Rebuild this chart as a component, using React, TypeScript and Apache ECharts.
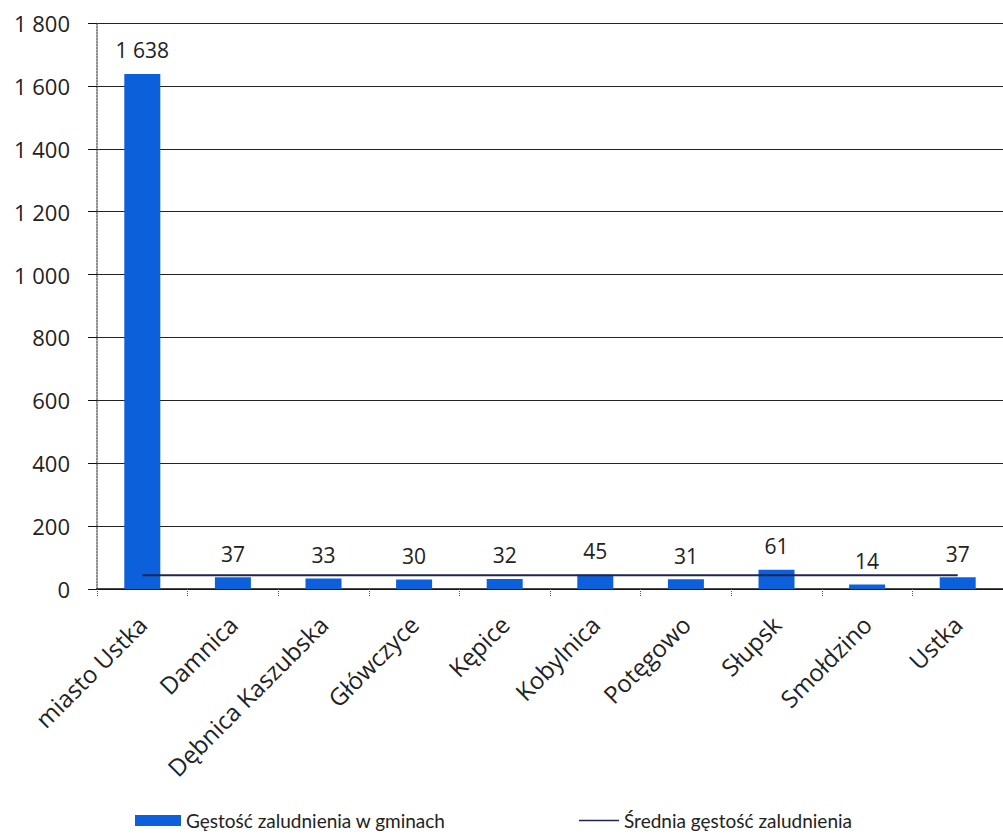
import React, { useEffect, useRef } from "react";
import * as echarts from "echarts";

const categories = [
  "miasto Ustka",
  "Damnica",
  "Dębnica Kaszubska",
  "Główczyce",
  "Kępice",
  "Kobylnica",
  "Potęgowo",
  "Słupsk",
  "Smołdzino",
  "Ustka",
];
const density = [1638, 37, 33, 30, 32, 45, 31, 61, 14, 37];
const averageDensity = [44, 44, 44, 44, 44, 44, 44, 44, 44, 44];
const barName = "Gęstość zaludnienia w gminach";
const lineName = "Średnia gęstość zaludnienia";

const fmt = (v: number) => {
  const s = String(Math.round(v));
  return s.length > 3 ? s.slice(0, s.length - 3) + " " + s.slice(-3) : s;
};

const FONT = "'Open Sans', Lato, sans-serif";
const LFONT = "Lato, 'Open Sans', sans-serif";

export default function App() {
  const ref = useRef<HTMLDivElement>(null);
  useEffect(() => {
    if (!ref.current) return;
    const chart = echarts.init(ref.current, undefined, { renderer: "svg" });
    chart.setOption({
      animation: false,
      backgroundColor: "#ffffff",
      textStyle: { fontFamily: FONT },
      grid: { left: 97, top: 23, width: 910, height: 566, containLabel: false },
      legend: [
        {
          data: [{ name: barName, icon: "rect" }],
          left: 130,
          top: 806,
          itemWidth: 46,
          itemHeight: 11,
          textStyle: { fontSize: 19, color: "#222", fontFamily: LFONT },
        },
        {
          data: [{ name: lineName, icon: "path://M0 0 H46 V2 H0 Z" }],
          left: 574,
          top: 806,
          itemWidth: 40,
          itemHeight: 2,
          textStyle: { fontSize: 19, color: "#222", fontFamily: LFONT },
        },
      ],
      xAxis: {
        type: "category",
        data: categories,
        axisLine: { show: true, lineStyle: { color: "#111", width: 1.5 } },
        axisTick: {
          show: true,
          alignWithLabel: false,
          length: 8,
          lineStyle: { color: "#555", type: "dotted" },
        },
        axisLabel: {
          rotate: 45,
          fontSize: 24,
          color: "#222",
          margin: 31,
          interval: 0,
          fontFamily: FONT,
        },
      },
      yAxis: {
        type: "value",
        min: 0,
        max: 1800,
        interval: 200,
        axisLine: { show: true, lineStyle: { color: "#666", type: "dotted", width: 1.5 } },
        axisTick: { show: true, length: 9, lineStyle: { color: "#111" } },
        axisLabel: {
          fontSize: 22,
          color: "#222",
          margin: 27,
          formatter: (v: number) => fmt(v),
          fontFamily: FONT,
        },
        splitLine: { show: true, lineStyle: { color: "#222", width: 1.2 } },
      },
      series: [
        {
          name: barName,
          type: "bar",
          data: density,
          barWidth: 36,
          itemStyle: { color: "#0c60dc" },
          label: {
            show: true,
            position: "top",
            distance: 13,
            fontSize: 21,
            color: "#222",
            formatter: (p: any) => fmt(p.value),
            fontFamily: FONT,
          },
        },
        {
          name: lineName,
          type: "line",
          data: averageDensity,
          symbol: "none",
          lineStyle: { color: "#1c2650", width: 2 },
          itemStyle: { color: "#1c2650" },
        },
      ],
    });
    return () => chart.dispose();
  }, []);
  return (
    <div
      ref={ref}
      style={{ position: "absolute", left: 0, top: 0, width: 1003, height: 839 }}
    />
  );
}
